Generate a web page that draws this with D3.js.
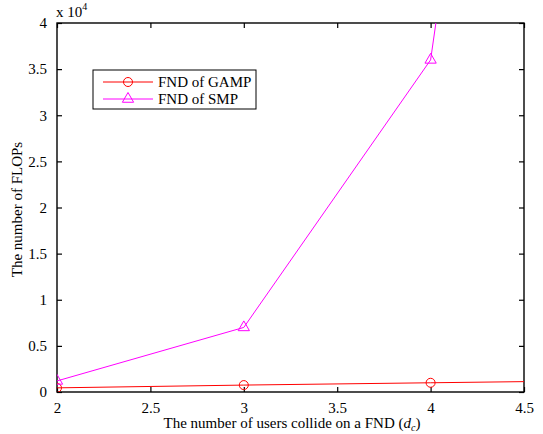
<!DOCTYPE html>
<html>
<head>
<meta charset="utf-8">
<script src="https://cdn.jsdelivr.net/npm/d3@7"></script>
<style>
  body { margin: 0; background: #fff; }
  svg, svg text { font-family: "Liberation Serif", "DejaVu Serif", serif !important; }
</style>
</head>
<body>
<div id="canvas"></div>
<script>
// users colliding on a FND
const users = [2, 3, 4, 5];
const gampFlops = [450, 750, 1000, 1250];
const smpFlops = [1200, 7000, 36000, 177000];
const seriesNames = ["FND of GAMP", "FND of SMP"];
const xTicks = [2, 2.5, 3, 3.5, 4, 4.5];
const yTicks = [0, 5000, 10000, 15000, 20000, 25000, 30000, 35000, 40000];

const width = 543;
const height = 434;
const margin = { top: 23, left: 57, bottom: 42, right: 19 };
const iwidth = width - margin.left - margin.right;
const iheight = height - margin.top - margin.bottom;

const svg = d3.select("#canvas").append("svg")
  .attr("width", width)
  .attr("height", height);

svg.append("defs").append("clipPath").attr("id", "clip")
  .append("rect").attr("width", iwidth).attr("height", iheight);

const g = svg.append("g")
  .attr("transform", `translate(${margin.left},${margin.top})`);

const x = d3.scaleLinear().domain([2, 4.5]).range([0, iwidth]);
const y = d3.scaleLinear().domain([0, 40000]).range([iheight, 0]);

// axes, ticks point inward and are mirrored
const fmtX = d3.format("");
const fmtY = (d) => d3.format("")(d / 1e4);
const axisStyle = (sel) => {
  sel.attr("font-family", null).attr("font-size", 15);
  sel.select(".domain").remove();
  sel.selectAll("line").attr("stroke", "#000").attr("stroke-width", 1.2);
  sel.selectAll("text").attr("fill", "#000");
};

g.append("g").attr("transform", `translate(0,${iheight})`)
  .call(d3.axisBottom(x).tickValues(xTicks).tickFormat(fmtX).tickSizeInner(-5).tickSizeOuter(0).tickPadding(10))
  .call(axisStyle);
g.append("g")
  .call(d3.axisTop(x).tickValues(xTicks).tickSizeInner(-5).tickSizeOuter(0).tickFormat(""))
  .call(axisStyle);
g.append("g")
  .call(d3.axisLeft(y).tickValues(yTicks).tickFormat(fmtY).tickSizeInner(-5).tickSizeOuter(0).tickPadding(10))
  .call(axisStyle);
g.append("g").attr("transform", `translate(${iwidth},0)`)
  .call(d3.axisRight(y).tickValues(yTicks).tickSizeInner(-5).tickSizeOuter(0).tickFormat(""))
  .call(axisStyle);

g.append("rect")
  .attr("width", iwidth).attr("height", iheight)
  .attr("fill", "none").attr("stroke", "#000").attr("stroke-width", 1.4);

// series
const line = (vals) => d3.line().x((d, i) => x(users[i])).y((d) => y(d))(vals);
const plot = g.append("g").attr("clip-path", "url(#clip)");

plot.append("path").attr("d", line(gampFlops))
  .attr("fill", "none").attr("stroke", "#ff0000").attr("stroke-width", 1);
plot.append("path").attr("d", line(smpFlops))
  .attr("fill", "none").attr("stroke", "#ff00ff").attr("stroke-width", 1);

const tri = d3.symbol().type(d3.symbolTriangle).size(55);

plot.selectAll("circle.gamp").data(gampFlops).enter().append("circle")
  .attr("class", "gamp")
  .attr("cx", (d, i) => x(users[i])).attr("cy", (d) => y(d)).attr("r", 4.5)
  .attr("fill", "none").attr("stroke", "#ff0000").attr("stroke-width", 1);

plot.selectAll("path.smp").data(smpFlops).enter().append("path")
  .attr("class", "smp")
  .attr("d", tri)
  .attr("transform", (d, i) => `translate(${x(users[i])},${y(d)})`)
  .attr("fill", "none").attr("stroke", "#ff00ff").attr("stroke-width", 1);

// exponent
const expo = svg.append("text").attr("x", 56).attr("y", 17)
  .attr("font-size", 15).attr("fill", "#000");
expo.append("tspan").text("x 10");
expo.append("tspan").attr("dy", -7).attr("font-size", 10).text("4");

// axis labels
const xl = svg.append("text")
  .attr("x", 292).attr("y", 428)
  .attr("text-anchor", "middle").attr("font-size", 15).attr("fill", "#000");
xl.append("tspan").text("The number of users collide on a FND (");
xl.append("tspan").attr("font-style", "italic").text("d");
xl.append("tspan").attr("font-size", 10).attr("dy", 3).attr("font-style", "italic").text("c");
xl.append("tspan").attr("dy", -3).text(")");

svg.append("text")
  .attr("transform", `translate(22,${margin.top + iheight / 2 + 2}) rotate(-90)`)
  .attr("text-anchor", "middle").attr("font-size", 15).attr("fill", "#000")
  .text("The number of FLOPs");

// legend
const legend = svg.append("g").attr("transform", "translate(93,70)");
legend.append("rect").attr("width", 163).attr("height", 39)
  .attr("fill", "#fff").attr("stroke", "#000").attr("stroke-width", 1);
const colors = ["#ff0000", "#ff00ff"];
seriesNames.forEach((name, i) => {
  const ly = 12 + i * 17;
  legend.append("line").attr("x1", 10).attr("x2", 60).attr("y1", ly).attr("y2", ly)
    .attr("stroke", colors[i]).attr("stroke-width", 1);
  if (i === 0) {
    legend.append("circle").attr("cx", 35).attr("cy", ly).attr("r", 4.5)
      .attr("fill", "none").attr("stroke", colors[i]);
  } else {
    legend.append("path").attr("d", tri).attr("transform", `translate(35,${ly})`)
      .attr("fill", "none").attr("stroke", colors[i]);
  }
  legend.append("text").attr("x", 65).attr("y", ly + 5)
    .attr("font-size", 15).attr("fill", "#000").text(name);
});
</script>
</body>
</html>
